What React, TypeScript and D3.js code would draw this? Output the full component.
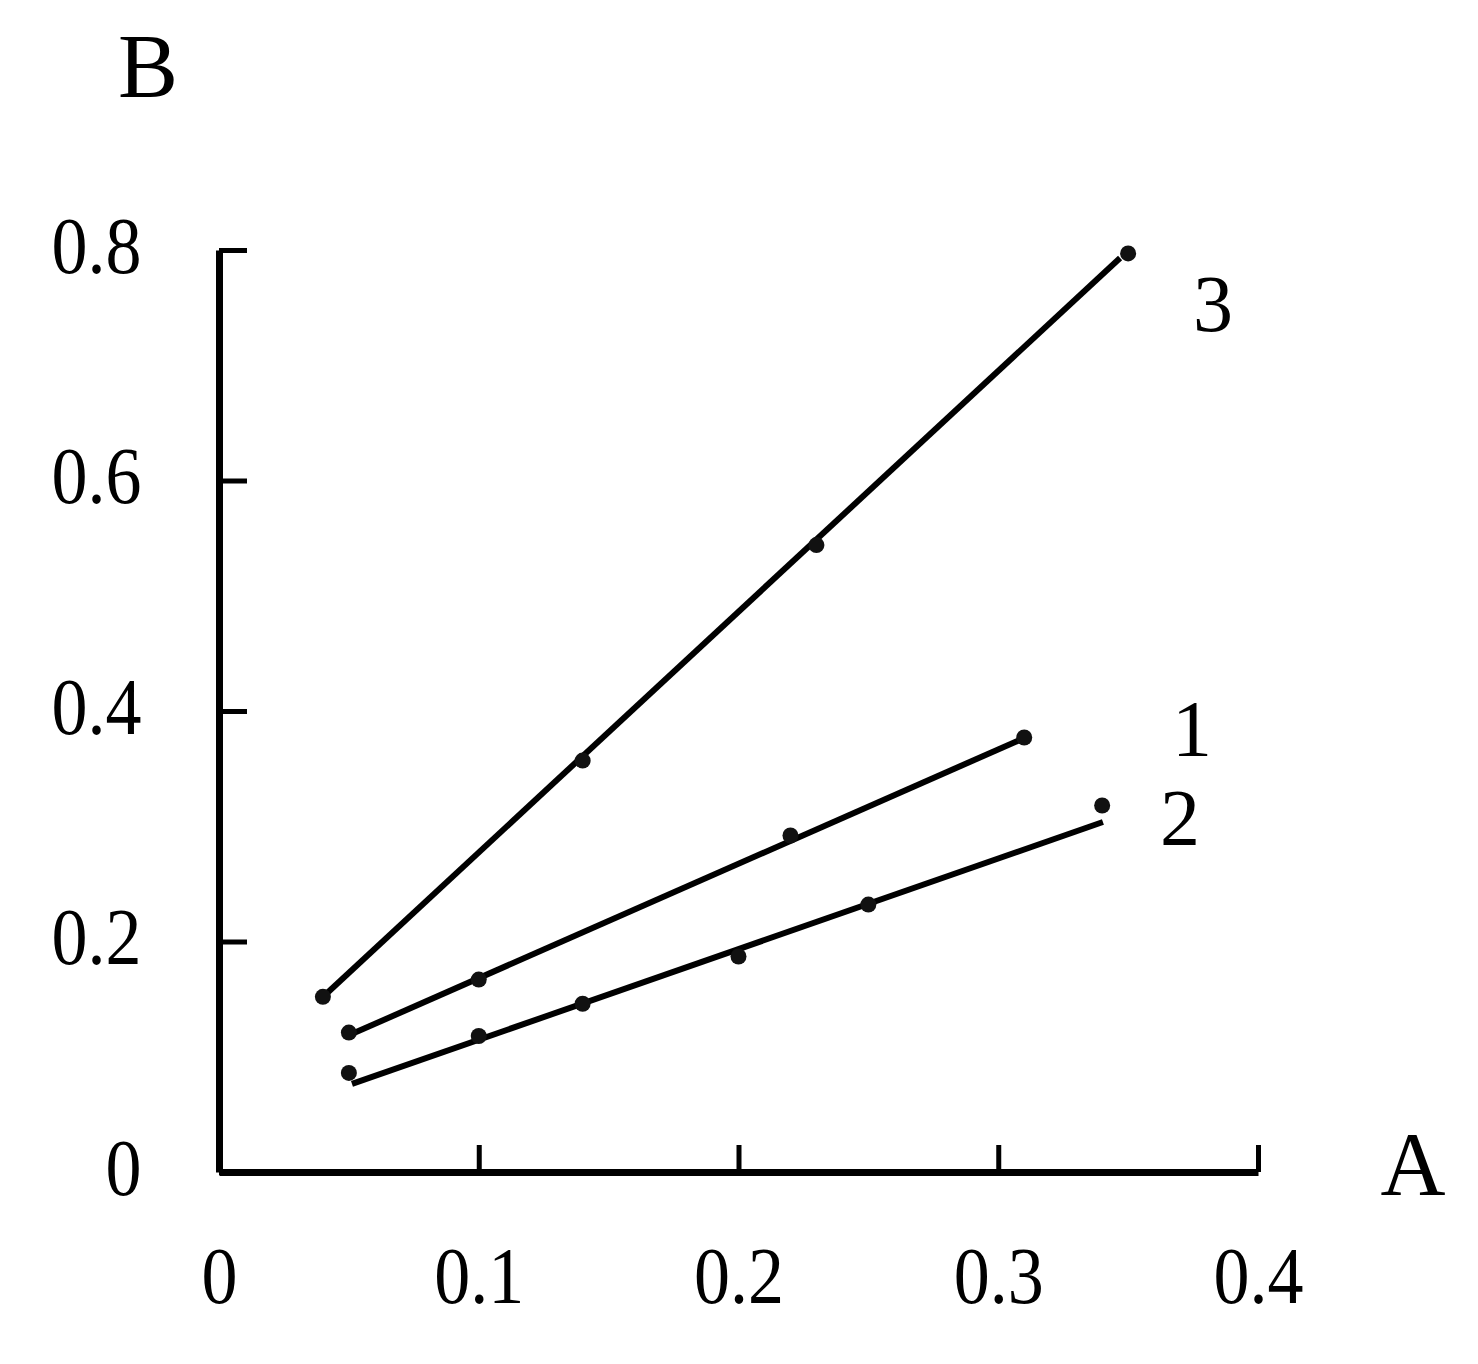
import React, { useRef, useEffect } from "react";
import * as d3 from "d3";

// values
const xTicks = [0, 0.1, 0.2, 0.3, 0.4];
const yTicks = [0, 0.2, 0.4, 0.6, 0.8];

const series1X = [0.05, 0.1, 0.22, 0.31];
const series1Y = [0.121, 0.167, 0.292, 0.377];
const series2X = [0.05, 0.1, 0.14, 0.2, 0.25, 0.34];
const series2Y = [0.086, 0.118, 0.146, 0.187, 0.232, 0.318];
const series3X = [0.04, 0.14, 0.23, 0.35];
const series3Y = [0.152, 0.357, 0.544, 0.797];

// fitted straight lines (start, end) as drawn
const fit1 = [[0.0504, 0.119], [0.3084, 0.375]];
const fit2 = [[0.0512, 0.0764], [0.3403, 0.3037]];
const fit3 = [[0.0408, 0.1536], [0.3469, 0.793]];

const seriesNames = ["1", "2", "3"];
const labelX = [0.3746, 0.37, 0.3827];
const labelY = [0.385, 0.308, 0.754];

const W = 1478;
const H = 1364;
const FONT = "'Liberation Serif', 'Times New Roman', serif";

export default function App() {
  const svgRef = useRef<SVGSVGElement>(null);

  useEffect(() => {
    const svg = d3.select(svgRef.current);
    svg.selectAll("*").remove();

    const x = d3.scaleLinear().domain([0, 0.4]).range([219, 1258]);
    const y = d3.scaleLinear().domain([0, 0.8]).range([1172, 250]);

    // x axis, ticks pointing up
    const gx = svg.append("g").attr("transform", `translate(0,${y(0)})`)
      .call(d3.axisBottom(x).tickValues(xTicks).tickSizeInner(-27).tickSizeOuter(0).tickPadding(74)
        .tickFormat(d => (d === 0 ? "0" : d3.format(".1f")(d as number))));
    gx.select(".domain").attr("stroke-width", 7).attr("stroke", "#000");
    gx.selectAll(".tick line").attr("stroke-width", 5).attr("stroke", "#000");
    gx.selectAll(".tick text").attr("font-family", FONT).attr("font-size", 80)
      .attr("fill", "#000").attr("transform", "scale(0.9,1)");

    // y axis, ticks pointing right
    const gy = svg.append("g").attr("transform", `translate(${x(0)},0)`)
      .call(d3.axisLeft(y).tickValues(yTicks).tickSizeInner(-28).tickSizeOuter(0).tickPadding(86)
        .tickFormat(d => (d === 0 ? "0" : d3.format(".1f")(d as number))));
    gy.select(".domain").attr("stroke-width", 7).attr("stroke", "#000");
    gy.selectAll(".tick line").attr("stroke-width", 5).attr("stroke", "#000");
    gy.selectAll(".tick text").attr("font-family", FONT).attr("font-size", 80)
      .attr("fill", "#000").attr("dy", "0.28em").attr("transform", "scale(0.9,1)");

    const series = [
      { xs: series1X, ys: series1Y, fit: fit1 },
      { xs: series2X, ys: series2Y, fit: fit2 },
      { xs: series3X, ys: series3Y, fit: fit3 },
    ];
    const ln = d3.line<number[]>().x(d => x(d[0])).y(d => y(d[1]));

    series.forEach((s, i) => {
      svg.append("path").attr("d", ln(s.fit)).attr("fill", "none")
        .attr("stroke", "#000").attr("stroke-width", 6);
      svg.append("g").selectAll("circle").data(s.xs).join("circle")
        .attr("cx", d => x(d)).attr("cy", (d, j) => y(s.ys[j])).attr("r", 8).attr("fill", "#111");
      svg.append("text").attr("x", x(labelX[i])).attr("y", y(labelY[i])).attr("dy", "0.35em")
        .attr("text-anchor", "middle").attr("font-family", FONT).attr("font-size", 80)
        .text(seriesNames[i]);
    });

    // axis titles
    svg.append("text").attr("x", 148).attr("y", 97).attr("text-anchor", "middle")
      .attr("font-family", FONT).attr("font-size", 90).text("B");
    svg.append("text").attr("x", 1413).attr("y", 1195).attr("text-anchor", "middle")
      .attr("font-family", FONT).attr("font-size", 90).text("A");
  }, []);

  return (
    <svg ref={svgRef} width={W} height={H}
      style={{ position: "absolute", left: 0, top: 0, background: "#fff" }} />
  );
}
